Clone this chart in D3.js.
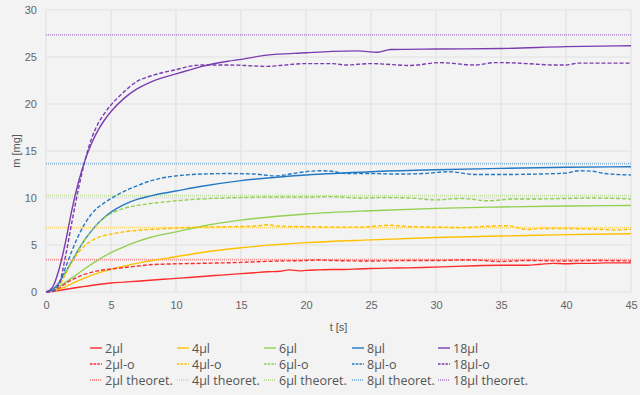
<!DOCTYPE html>
<html><head><meta charset="utf-8">
<script src="https://cdn.jsdelivr.net/npm/d3@7/dist/d3.min.js"></script>
<style>body{margin:0;background:#f3f3f3;}svg{display:block;}</style>
</head><body><svg id="c" width="640" height="395"></svg>
<script>
const xTicks = [0,5,10,15,20,25,30,35,40,45];
const yTicks = [0,5,10,15,20,25,30];
const xLabel = "t [s]";
const yLabel = "m [mg]";
const seriesNames = ["2µl","4µl","6µl","8µl","18µl"];
const colors = ["#ff2a2a","#ffc000","#92d050","#2479c4","#7a3cb0"];
const theoretical = [3.45, 6.85, 10.25, 13.65, 27.35];

// measured (solid) [t, m]
const s2 = [[0,0],[1,0.15],[2,0.4],[3,0.6],[4,0.8],[5,0.95],[6,1.05],[7,1.15],[8,1.25],[9,1.35],[10,1.45],[11,1.55],[12,1.65],[13,1.75],[14,1.85],[15,1.95],[16,2.05],[17,2.15],[18,2.2],[18.7,2.35],[19.5,2.25],[20,2.3],[21,2.35],[22,2.4],[23,2.4],[24,2.45],[25,2.5],[27,2.55],[29,2.6],[31,2.7],[33,2.8],[35,2.85],[37,2.85],[38,2.95],[39,3.05],[40,3.0],[41,3.05],[42,3.05],[43,3.1],[45,3.1]];
const s4 = [[0,0],[1,0.3],[2,0.9],[3,1.5],[4,2.0],[5,2.4],[6,2.75],[7,3.05],[8,3.3],[10,3.75],[12,4.2],[15,4.7],[20,5.25],[25,5.55],[30,5.8],[35,5.95],[40,6.1],[45,6.2]];
const s6 = [[0,0],[1,0.6],[2,1.5],[3,2.5],[4,3.4],[5,4.2],[6,4.8],[7,5.35],[8,5.8],[10,6.4],[12,7.0],[15,7.65],[20,8.3],[25,8.65],[30,8.9],[35,9.05],[40,9.15],[45,9.2]];
const s8 = [[0,0],[0.5,0.25],[1,1.0],[1.5,2.1],[2,3.3],[2.5,4.5],[3,5.6],[3.5,6.5],[4,7.3],[4.5,7.95],[5,8.5],[6,9.3],[7,9.85],[8,10.2],[9,10.5],[10,10.75],[12,11.25],[15,11.85],[20,12.45],[25,12.8],[30,13.0],[35,13.15],[40,13.27],[45,13.33]];
const s18 = [[0,0],[0.5,0.5],[1,2.4],[1.5,5.3],[2,8.8],[2.5,11.7],[3,14.0],[3.5,15.8],[4,17.2],[4.5,18.3],[5,19.2],[6,20.6],[7,21.6],[8,22.3],[9,22.8],[10,23.2],[11,23.6],[12,24.0],[14,24.55],[15,24.75],[17,25.2],[20,25.45],[22,25.6],[24,25.65],[25.5,25.5],[26.5,25.8],[30,25.85],[35,25.9],[40,26.1],[45,26.2]];

// measured "-o" (dashed) [t, m]
const o2 = [[0,0],[0.5,0.05],[1,0.4],[1.5,0.9],[2,1.3],[3,1.9],[4,2.25],[5,2.45],[6,2.6],[7,2.75],[8,2.9],[10,3.0],[12,3.05],[15,3.15],[18,3.3],[20,3.35],[21,3.4],[22,3.35],[25,3.3],[28,3.35],[30,3.35],[32,3.4],[33,3.4],[35,3.25],[37,3.35],[40,3.3],[42,3.35],[45,3.3]];
const o4 = [[0,0],[0.5,0.05],[1,0.6],[1.5,1.9],[2,3.2],[2.5,4.2],[3,4.95],[3.5,5.45],[4,5.8],[5,6.15],[6,6.4],[7,6.55],[8,6.65],[10,6.8],[12,6.9],[14,6.95],[16,7.0],[17,7.15],[18,7.0],[20,6.95],[22,6.9],[24,6.9],[26.5,7.1],[28,6.95],[30,6.9],[32,6.85],[34,7.0],[35.5,7.05],[37,6.65],[38,6.75],[40,6.75],[42,6.7],[44,6.6],[45,6.7]];
const o6 = [[0,0],[0.5,0.1],[1,0.9],[1.5,2.1],[2,3.3],[2.5,4.5],[3,5.6],[3.5,6.5],[4,7.3],[4.5,7.9],[5,8.35],[6,8.9],[7,9.2],[8,9.4],[10,9.7],[12,9.9],[15,10.05],[17,10.1],[20,10.1],[22,10.15],[24,10.0],[26,10.05],[28,10.0],[30,9.8],[32,9.95],[34,9.7],[36,9.9],[38,9.9],[40,9.95],[42,10.0],[45,9.9]];
const o8 = [[0,0],[0.5,0.1],[1,0.9],[1.5,2.6],[2,4.4],[2.5,6.0],[3,7.3],[3.5,8.3],[4,9.0],[4.5,9.5],[5,9.95],[6,10.7],[7,11.3],[8,11.8],[9,12.15],[10,12.35],[12,12.55],[14,12.6],[16,12.55],[17.7,12.35],[19,12.6],[20,12.8],[21,12.9],[22,12.85],[23,12.6],[25,12.6],[27,12.55],[29,12.6],[31,12.8],[33,12.5],[35,12.5],[38,12.55],[40,12.65],[41,12.9],[42,12.85],[43,12.6],[45,12.45]];
const o18 = [[0,0],[0.5,0.05],[1,0.8],[1.5,3.8],[2,7.5],[2.5,11.0],[3,14.0],[3.5,16.3],[4,17.9],[4.5,19.0],[5,19.9],[6,21.3],[7,22.4],[8,22.95],[9,23.35],[10,23.65],[11,24.0],[12,24.15],[14,24.15],[16,24.05],[17,24.0],[18,24.1],[20,24.3],[22,24.3],[23,24.15],[25,24.3],[28,24.1],[30.3,24.4],[33,24.15],[34.5,24.4],[35,24.4],[37,24.3],[39,24.15],[40,24.15],[41,24.35],[45,24.35]];

const solid = [s2,s4,s6,s8,s18];
const dashed = [o2,o4,o6,o8,o18];

const svg = d3.select("#c");
const L=46, R=631, T=10, B=292;
const x = d3.scaleLinear().domain([0,45]).range([L,R]);
const y = d3.scaleLinear().domain([0,30]).range([B,T]);

// grid
const g = svg.append("g");
g.selectAll(".vx").data(xTicks).join("line")
  .attr("x1",d=>x(d)).attr("x2",d=>x(d)).attr("y1",T).attr("y2",B)
  .attr("stroke","#e2e2e2").attr("stroke-width",1.2);
g.selectAll(".hy").data(yTicks).join("line")
  .attr("x1",L).attr("x2",R).attr("y1",d=>y(d)).attr("y2",d=>y(d))
  .attr("stroke","#e2e2e2").attr("stroke-width",1.2);

// axes
const xa = svg.append("g").attr("transform",`translate(0,${B})`)
  .call(d3.axisBottom(x).tickValues(xTicks).tickSize(0).tickPadding(9));
const ya = svg.append("g").attr("transform",`translate(${L},0)`)
  .call(d3.axisLeft(y).tickValues(yTicks).tickSize(0).tickPadding(9));
[xa,ya].forEach(a=>{
  a.select(".domain").remove();
  a.selectAll("text").attr("fill","#666").style("font-family","Liberation Sans, Arial, sans-serif").style("font-size","11px");
});
svg.append("text").attr("x",(L+R)/2).attr("y",331).attr("text-anchor","middle")
  .attr("fill","#555").style("font-family","Liberation Sans, Arial, sans-serif").style("font-size","11px").text(xLabel);
svg.append("text").attr("transform",`translate(20,${(T+B)/2}) rotate(-90)`).attr("text-anchor","middle")
  .attr("fill","#555").style("font-family","Liberation Sans, Arial, sans-serif").style("font-size","11px").text(yLabel);

const line = d3.line().x(d=>x(d[0])).y(d=>y(d[1])).curve(d3.curveMonotoneX);
const plot = svg.append("g");
// theoretical
theoretical.forEach((v,i)=>{
  plot.append("line").attr("x1",L).attr("x2",R).attr("y1",y(v)).attr("y2",y(v))
    .attr("stroke",colors[i]).attr("stroke-opacity",0.5).attr("stroke-width",1.8).attr("stroke-dasharray","1,1");
});
solid.forEach((s,i)=>{
  plot.append("path").attr("d",line(s)).attr("fill","none").attr("stroke",colors[i]).attr("stroke-width",1.4);
});
dashed.forEach((s,i)=>{
  plot.append("path").attr("d",line(s)).attr("fill","none").attr("stroke",colors[i]).attr("stroke-width",1.4).attr("stroke-dasharray","4,2");
});

// legend
const leg = svg.append("g");
const colX = [90,177,264,352,438];
const rowY = [348,364,380];
seriesNames.forEach((n,i)=>{
  const labels=[n, n+"-o", n+" theoret."];
  labels.forEach((lab,r)=>{
    const ln = leg.append("line").attr("x1",colX[i]).attr("x2",colX[i]+12).attr("y1",rowY[r]).attr("y2",rowY[r])
      .attr("stroke",colors[i]).attr("stroke-width",1.4);
    if(r===1) ln.attr("stroke-dasharray","2.5,1.2");
    if(r===2) ln.attr("stroke-dasharray","1,1").attr("stroke-opacity",0.5).attr("stroke-width",1.8);
    leg.append("text").attr("x",colX[i]+15).attr("y",rowY[r]+4.5).text(lab)
      .attr("fill","#555").style("font-family","Open Sans, sans-serif").style("font-size","12.5px");
  });
});
</script></body></html>
